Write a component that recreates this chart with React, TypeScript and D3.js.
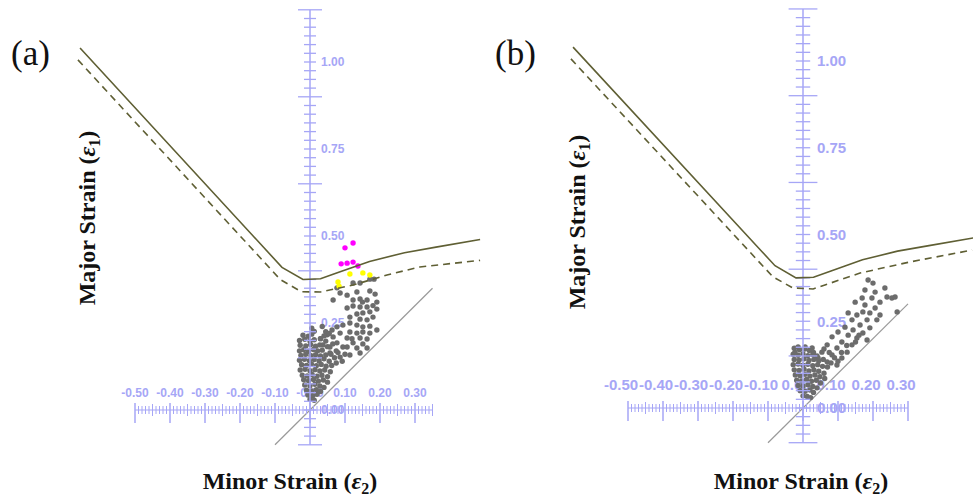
import React, { useEffect, useRef } from 'react';
import * as d3 from 'd3';

type Pt = [number, number];

// forming limit curve (minor strain, major strain)
const flcSolid: Pt[] = [
  [-0.657, 1.04], [-0.08, 0.41], [-0.02, 0.375], [0.03, 0.377], [0.08, 0.395],
  [0.17, 0.427], [0.27, 0.452], [0.36, 0.468], [0.486, 0.49],
];
const flcDashedA: Pt[] = [
  [-0.663, 1.006], [-0.085, 0.375], [-0.025, 0.34], [0.03, 0.339], [0.123, 0.359],
  [0.22, 0.388], [0.314, 0.411], [0.486, 0.43],
];
const flcDashedB: Pt[] = [
  [-0.663, 1.006], [-0.086, 0.378], [-0.029, 0.346], [0.029, 0.343], [0.163, 0.389],
  [0.306, 0.421], [0.483, 0.455],
];

const pointsAMagenta: Pt[] = [
  [0.1, 0.466], [0.123, 0.48], [0.089, 0.42], [0.106, 0.422], [0.123, 0.425], [0.137, 0.414],
];
const pointsAYellow: Pt[] = [
  [0.08, 0.368], [0.083, 0.356], [0.114, 0.391], [0.151, 0.394], [0.171, 0.388],
];
const pointsAGray: Pt[] = [
  [0.171, 0.376], [0.183, 0.376], [0.143, 0.365], [0.123, 0.365], [0.086, 0.336], [0.106, 0.33],
  [0.134, 0.339], [0.171, 0.342], [0.186, 0.333], [0.066, 0.316], [0.123, 0.316], [0.143, 0.319],
  [0.163, 0.316], [0.106, 0.293], [0.123, 0.299], [0.143, 0.296], [0.163, 0.296], [0.191, 0.31],
  [0.134, 0.276], [0.151, 0.279], [0.171, 0.282], [0.191, 0.29], [0.114, 0.267], [0.143, 0.261],
  [0.163, 0.259], [0.18, 0.267], [0.077, 0.239], [0.094, 0.244], [0.114, 0.25], [0.134, 0.244],
  [0.151, 0.239], [0.171, 0.241], [0.086, 0.221], [0.114, 0.224], [0.134, 0.221], [0.151, 0.224],
  [0.171, 0.221], [0.191, 0.23], [0.049, 0.216], [0.066, 0.21], [0.106, 0.207], [0.143, 0.207],
  [0.163, 0.204], [0.077, 0.193], [0.123, 0.193], [0.151, 0.19], [0.057, 0.181], [0.094, 0.181],
  [0.134, 0.178], [0.163, 0.178], [0.037, 0.187], [0.114, 0.158], [0.143, 0.164], [0.086, 0.152],
  [0.057, 0.164], [0.106, 0.181], [0.07, 0.15], [0.08, 0.165], [0.075, 0.135], [0.092, 0.14],
  [0.1, 0.16], [0.005, 0.235], [0.012, 0.226], [0.077, 0.351], [0.063, 0.23], [0.12, 0.205],
  [0.18, 0.3], [0.15, 0.31], [0.035, 0.24], [0.045, 0.225], [0.03, 0.205],
  [-0.02, 0.215], [-0.005, 0.212], [0.005, 0.218], [0.04, 0.213], [0.055, 0.22],
  [-0.03, 0.2], [-0.015, 0.203], [0.0, 0.198], [0.012, 0.202], [0.03, 0.205], [0.045, 0.198],
  [-0.028, 0.186], [-0.012, 0.184], [0.002, 0.188], [0.016, 0.183], [0.028, 0.187], [0.05, 0.182], [0.065, 0.19],
  [-0.03, 0.17], [-0.018, 0.173], [-0.004, 0.169], [0.01, 0.174], [0.022, 0.17], [0.035, 0.172], [0.075, 0.17],
  [-0.026, 0.157], [-0.012, 0.16], [0.003, 0.156], [0.016, 0.159], [0.03, 0.155], [0.045, 0.158], [0.06, 0.16],
  [-0.03, 0.143], [-0.016, 0.146], [-0.002, 0.142], [0.012, 0.145], [0.026, 0.141], [0.04, 0.147], [0.055, 0.14],
  [-0.024, 0.13], [-0.01, 0.128], [0.004, 0.132], [0.018, 0.127], [0.032, 0.131], [0.046, 0.126], [0.062, 0.128],
  [-0.028, 0.115], [-0.014, 0.117], [0.0, 0.113], [0.014, 0.116], [0.028, 0.112], [0.042, 0.115], [0.058, 0.11],
  [-0.022, 0.1], [-0.008, 0.098], [0.006, 0.102], [0.02, 0.097], [0.034, 0.1], [0.05, 0.096],
  [-0.018, 0.087], [-0.004, 0.084], [0.01, 0.088], [0.024, 0.083], [0.038, 0.086], [0.05, 0.08],
  [-0.015, 0.072], [0.0, 0.07], [0.014, 0.074], [0.028, 0.069], [0.04, 0.065],
  [-0.01, 0.057], [0.004, 0.055], [0.018, 0.058], [0.03, 0.053],
  [-0.006, 0.043], [0.008, 0.041], [0.02, 0.045], [0.0, 0.03], [0.012, 0.028],
];

const pointsBGray: Pt[] = [
  [0.186, 0.369], [0.2, 0.36], [0.177, 0.34], [0.206, 0.334], [0.234, 0.346], [0.24, 0.32],
  [0.254, 0.317], [0.263, 0.32], [0.269, 0.277], [0.22, 0.305], [0.197, 0.317], [0.169, 0.317],
  [0.149, 0.305], [0.177, 0.297], [0.206, 0.288], [0.191, 0.274], [0.22, 0.268], [0.171, 0.277],
  [0.154, 0.268], [0.183, 0.254], [0.211, 0.254], [0.14, 0.254], [0.129, 0.274], [0.163, 0.239],
  [0.191, 0.231], [0.12, 0.233], [0.143, 0.225], [0.171, 0.216], [0.1, 0.219], [0.129, 0.21],
  [0.154, 0.202], [0.183, 0.196], [0.083, 0.205], [0.111, 0.19], [0.14, 0.182], [0.069, 0.182],
  [0.097, 0.173], [0.126, 0.161], [0.054, 0.161], [0.083, 0.153], [0.111, 0.144], [0.043, 0.144],
  [0.069, 0.133], [0.097, 0.124], [0.026, 0.173], [0.006, 0.176], [-0.014, 0.176], [-0.023, 0.161],
  [0.06, 0.17], [0.075, 0.16], [0.09, 0.145], [0.08, 0.13], [0.1, 0.135], [0.11, 0.16],
  [0.125, 0.18], [0.15, 0.19], [0.16, 0.21],
  [-0.025, 0.172], [-0.01, 0.168], [0.005, 0.17], [0.018, 0.166], [0.03, 0.16],
  [-0.028, 0.155], [-0.014, 0.152], [0.0, 0.156], [0.014, 0.151], [0.028, 0.154], [0.04, 0.15],
  [-0.025, 0.14], [-0.011, 0.138], [0.003, 0.142], [0.017, 0.137], [0.031, 0.14], [0.045, 0.136], [0.058, 0.14],
  [-0.028, 0.125], [-0.014, 0.127], [0.0, 0.123], [0.014, 0.126], [0.028, 0.122], [0.042, 0.125], [0.056, 0.12], [0.07, 0.118],
  [-0.025, 0.11], [-0.011, 0.108], [0.003, 0.112], [0.017, 0.107], [0.031, 0.11], [0.045, 0.106], [0.06, 0.1],
  [-0.022, 0.095], [-0.008, 0.093], [0.006, 0.097], [0.02, 0.092], [0.034, 0.095], [0.048, 0.09], [0.062, 0.085],
  [-0.018, 0.08], [-0.004, 0.078], [0.01, 0.082], [0.024, 0.077], [0.038, 0.08], [0.05, 0.072],
  [-0.014, 0.065], [0.0, 0.063], [0.014, 0.067], [0.028, 0.062], [0.04, 0.058],
  [-0.008, 0.05], [0.006, 0.048], [0.02, 0.052], [0.03, 0.045],
  [0.0, 0.035], [0.012, 0.033], [0.022, 0.03],
];

const xTicks = [-0.5, -0.4, -0.3, -0.2, -0.1, 0, 0.1, 0.2, 0.3];
const xTickLabelsA = ['-0.50', '-0.40', '-0.30', '-0.20', '-0.10', '-0.00', '0.10', '0.20', '0.30'];
const xTickLabelsB = ['-0.50', '-0.40', '-0.30', '-0.20', '-0.10', '0.00', '0.10', '0.20', '0.30'];
const yTicks = [0, 0.25, 0.5, 0.75, 1.0];
const yTickLabels = ['0.00', '0.25', '0.50', '0.75', '1.00'];

const AXIS = '#a6a6f6';
const CURVE = '#5f5f34';
const DOT = '#6c6c6c';

const App = () => {
  const svgRef = useRef(null);

  useEffect(() => {
    const svg = d3.select(svgRef.current);
    svg.selectAll('*').remove();

    const drawPanel = (cfg: any) => {
      const x = d3.scaleLinear().domain([0, 1]).range([cfg.ox, cfg.ox + cfg.kx]);
      const y = d3.scaleLinear().domain([0, 1]).range([cfg.oy, cfg.oy - cfg.ky]);
      const g = svg.append('g');
      const s = cfg.tickScale;

      // tick labels (under the points)
      g.selectAll('text.xl')
        .data(xTicks)
        .enter()
        .append('text')
        .attr('x', (d, i) => x(d) + cfg.xLabelDx)
        .attr('y', cfg.oy - cfg.xLabelUp)
        .attr('text-anchor', 'middle')
        .attr('font-family', 'Liberation Sans, Arial, sans-serif')
        .attr('font-weight', 'bold')
        .attr('font-size', cfg.fontSize)
        .attr('fill', AXIS)
        .text((d, i) => cfg.xLabels[i]);

      g.selectAll('text.yl')
        .data(yTicks)
        .enter()
        .append('text')
        .attr('x', cfg.ox + cfg.yLabelDx)
        .attr('y', d => y(d))
        .attr('dy', '0.36em')
        .attr('font-family', 'Liberation Sans, Arial, sans-serif')
        .attr('font-weight', 'bold')
        .attr('font-size', cfg.fontSize)
        .attr('fill', AXIS)
        .text((d, i) => yTickLabels[i]);

      // equibiaxial reference line
      g.append('line')
        .attr('x1', x(-0.1)).attr('y1', y(-0.1))
        .attr('x2', x(cfg.diagMax)).attr('y2', y(cfg.diagMax))
        .attr('stroke', '#9a9a9a')
        .attr('stroke-width', 1.2);

      const dots = (pts: Pt[], color: string) => {
        g.append('g')
          .selectAll('circle')
          .data(pts)
          .enter()
          .append('circle')
          .attr('cx', d => x(d[0]))
          .attr('cy', d => y(d[1]))
          .attr('r', 2.7)
          .attr('fill', color);
      };
      dots(cfg.gray, DOT);
      if (cfg.magenta) dots(cfg.magenta, '#ff00ff');
      if (cfg.yellow) dots(cfg.yellow, '#ffff00');

      // ruler-style axes
      const ax = g.append('g').attr('stroke', AXIS);
      ax.append('line')
        .attr('x1', x(-0.5)).attr('x2', x(cfg.xMax))
        .attr('y1', cfg.oy).attr('y2', cfg.oy)
        .attr('stroke-width', 1.2);
      const xt = d3.range(-50, Math.round(cfg.xMax * 100) + 1).map(v => v / 100);
      ax.selectAll('line.xt')
        .data(xt)
        .enter()
        .append('line')
        .attr('x1', d => x(d)).attr('x2', d => x(d))
        .attr('y1', d => {
          const k = Math.round(d * 100);
          return cfg.oy - (k % 10 === 0 ? 7 : k % 5 === 0 ? 6 : 4);
        })
        .attr('y2', d => {
          const k = Math.round(d * 100);
          return cfg.oy + (k % 10 === 0 ? 13 : k % 5 === 0 ? 6 : 4);
        })
        .attr('stroke-width', d => (Math.round(d * 100) % 10 === 0 ? 1.5 : 1));

      ax.append('line')
        .attr('x1', cfg.ox).attr('x2', cfg.ox)
        .attr('y1', y(-0.1)).attr('y2', y(1.15))
        .attr('stroke-width', 1.5);
      const yt = d3.range(-4, 47).map(v => v * 0.025);
      ax.selectAll('line.yt')
        .data(yt)
        .enter()
        .append('line')
        .attr('y1', d => y(d)).attr('y2', d => y(d))
        .attr('x1', (d, i) => cfg.ox - ((i - 10) % 10 === 0 ? 12 : 6) * s)
        .attr('x2', (d, i) => cfg.ox + ((i - 10) % 10 === 0 ? 12 : 6) * s)
        .attr('stroke-width', 1.3);

      // forming limit curves
      const line = d3.line<Pt>().x(d => x(d[0])).y(d => y(d[1]));
      g.append('path')
        .attr('d', line(cfg.dashed))
        .attr('fill', 'none')
        .attr('stroke', CURVE)
        .attr('stroke-width', 1.6)
        .attr('stroke-dasharray', '7,5');
      g.append('path')
        .attr('d', line(flcSolid))
        .attr('fill', 'none')
        .attr('stroke', CURVE)
        .attr('stroke-width', 1.6);

      // panel letter
      g.append('text')
        .attr('x', cfg.letterX)
        .attr('y', 65)
        .attr('font-family', 'Liberation Serif, Times New Roman, serif')
        .attr('font-size', 35)
        .attr('fill', '#111')
        .text(cfg.letter);

      // axis titles
      const title = (t: any, main: string, sub: string) => {
        t.attr('font-family', 'Liberation Serif, Times New Roman, serif')
          .attr('font-weight', 'bold')
          .attr('font-size', 24)
          .attr('fill', '#111')
          .attr('text-anchor', 'middle');
        t.append('tspan').text(main + ' (');
        t.append('tspan').attr('font-style', 'italic').text('ε');
        t.append('tspan').attr('dy', 5).attr('font-size', 16).text(sub);
        t.append('tspan').attr('dy', -5).text(')');
      };
      title(
        g.append('text').attr('transform', `translate(${cfg.yTitleX},${cfg.yTitleY}) rotate(-90)`),
        'Major Strain', '1'
      );
      title(
        g.append('text').attr('x', cfg.xTitleX).attr('y', 489),
        'Minor Strain', '2'
      );
    };

    drawPanel({
      ox: 310, oy: 410, kx: 350, ky: 348, xMax: 0.35, diagMax: 0.35,
      fontSize: 12, xLabelDx: 0, xLabelUp: 13, yLabelDx: 11, tickScale: 1,
      xLabels: xTickLabelsA, gray: pointsAGray, magenta: pointsAMagenta, yellow: pointsAYellow,
      dashed: flcDashedA, letter: '(a)', letterX: 11, yTitleX: 95, yTitleY: 218, xTitleX: 290,
    });
    drawPanel({
      ox: 803, oy: 408, kx: 350, ky: 347, xMax: 0.3, diagMax: 0.3,
      fontSize: 15, xLabelDx: -7, xLabelUp: 18, yLabelDx: 14, tickScale: 1.2,
      xLabels: xTickLabelsB, gray: pointsBGray,
      dashed: flcDashedB, letter: '(b)', letterX: 495, yTitleX: 585, yTitleY: 222, xTitleX: 801,
    });
  }, []);

  return (
    <div style={{ position: 'fixed', left: 0, top: 0, width: 973, height: 501, background: '#fff' }}>
      <svg ref={svgRef} width={973} height={501}></svg>
    </div>
  );
};

export default App;
